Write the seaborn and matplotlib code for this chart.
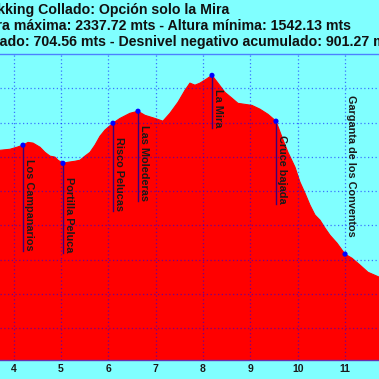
import numpy as np
import pandas as pd
import matplotlib
matplotlib.use('Agg')
import matplotlib.pyplot as plt
import seaborn as sns

# Perfil de elevación (km, metros)
km = [3.715, 3.926, 4.074, 4.200, 4.306, 4.412, 4.559, 4.665, 4.770, 4.876,
      4.939, 5.045, 5.150, 5.298, 5.404, 5.509, 5.615, 5.720, 5.826, 5.931,
      6.100, 6.248, 6.459, 6.628, 6.776, 6.987, 7.155, 7.303, 7.472, 7.620,
      7.725, 7.831, 7.937, 8.064, 8.190, 8.317, 8.464, 8.612, 8.739, 8.887,
      9.034, 9.203, 9.372, 9.541, 9.668, 9.794, 9.942, 10.048, 10.153, 10.259,
      10.365, 10.471, 10.576, 10.682, 10.830, 10.999, 11.146, 11.315, 11.484, 11.716]
elev = [2119, 2122, 2128, 2134, 2142, 2140, 2128, 2113, 2102, 2099,
        2090, 2081, 2084, 2087, 2090, 2102, 2113, 2134, 2160, 2178,
        2198, 2212, 2227, 2233, 2221, 2212, 2204, 2227, 2259, 2294,
        2315, 2309, 2315, 2326, 2337.72, 2315, 2288, 2271, 2256, 2253,
        2250, 2239, 2224, 2204, 2157, 2113, 2070, 2026, 1994, 1959,
        1930, 1915, 1892, 1871, 1848, 1816, 1804, 1784, 1763, 1749]

# Puntos de paso
wp_names = ['Los Campanarios', 'Portilla Peluca', 'Risco Pelucas', 'Las Molederas',
            'La Mira', 'Cruce bajada', 'Garganta de los Conventos']
wp_km = [4.200, 5.045, 6.100, 6.628, 8.190, 9.541, 10.999]
wp_elev = [2134, 2081, 2198, 2233, 2337.72, 2204, 1816]
wp_side = ['below', 'below', 'below', 'below', 'below', 'below', 'above']

x_ticks = [4, 5, 6, 7, 8, 9, 10, 11]
y_ticks = [1600, 1700, 1800, 1900, 2000, 2100, 2200, 2300]

title_lines = ['Trekking Collado: Opción solo la Mira',
               'Altura máxima: 2337.72 mts - Altura mínima: 1542.13 mts',
               'Desnivel positivo acumulado: 704.56 mts - Desnivel negativo acumulado: 901.27 mts']

CYAN = '#80ffff'
RED = '#ff0000'

plt.rcParams['font.family'] = ['Liberation Sans', 'DejaVu Sans']

df = pd.DataFrame({'km': km, 'elev': elev})
wp = pd.DataFrame({'km': wp_km, 'elev': wp_elev})

W = H = 379
fig = plt.figure(figsize=(W / 100, H / 100), dpi=100, facecolor=CYAN)
ax = fig.add_axes([0, (H - 360) / H, 1, 306 / H])
ax.set_facecolor(CYAN)

ax.fill_between(df['km'], 1400, df['elev'], color=RED, lw=0, zorder=1)
sns.lineplot(data=df, x='km', y='elev', color=RED, lw=0.8, ax=ax, zorder=1.2)
sns.scatterplot(data=wp, x='km', y='elev', color='#0000ff', s=14, edgecolor='none',
                ax=ax, zorder=4)

ax.set_xlim(3.715, 11.716)
ax.set_ylim(1507, 2400)
ax.set_xticks(x_ticks)
ax.set_xticklabels([str(t) for t in x_ticks], fontsize=7.5, fontweight='bold', color='#1a1a1a')
ax.set_yticks(y_ticks)
ax.set_yticklabels([])
ax.tick_params(length=0, pad=3)
ax.set_xlabel('')
ax.set_ylabel('')

ax.grid(True, color='#0000ff', alpha=0.55, linestyle=(0, (1, 2)), lw=0.9)
ax.set_axisbelow(False)

for s in ['left', 'right']:
    ax.spines[s].set_visible(False)
ax.spines['top'].set_color('#4d80ff')
ax.spines['top'].set_linewidth(1.0)
ax.spines['bottom'].set_color('#6a30b0')
ax.spines['bottom'].set_linewidth(1.0)

# etiquetas verticales de los puntos de paso
px = 306 / (2400 - 1507)  # pixeles por metro
labels = []
for name, x, y, side in zip(wp_names, wp_km, wp_elev, wp_side):
    if side == 'below':
        t = ax.text(x + 0.02, y - 14 / px, name, rotation=270, ha='left', va='top',
                    fontsize=7.8, fontweight='bold', color='#1a1a1a', zorder=5)
    else:
        t = ax.text(x + 0.02, y + 17 / px, name, rotation=270, ha='left', va='bottom',
                    fontsize=7.8, fontweight='bold', color='#1a1a1a', zorder=5)
    labels.append(t)

fig.canvas.draw()
inv = ax.transData.inverted()
for t, x, y, side in zip(labels, wp_km, wp_elev, wp_side):
    bb = t.get_window_extent()
    if side == 'below':
        y_end = inv.transform((0, bb.y0))[1]
        ax.plot([x, x], [y, y_end], color='#3c0078', lw=1.0, zorder=3)

# título (recortado por el borde de la figura, como en la referencia)
ends = [229, 351, 398]
bases = [14, 30, 46]
for line, xe, yb in zip(title_lines, ends, bases):
    fig.text(xe / W, 1 - yb / H, line, ha='right', va='baseline',
             fontsize=10.2, fontweight='bold', color='#111111')

fig.savefig('out.png', dpi=100, facecolor=CYAN)
